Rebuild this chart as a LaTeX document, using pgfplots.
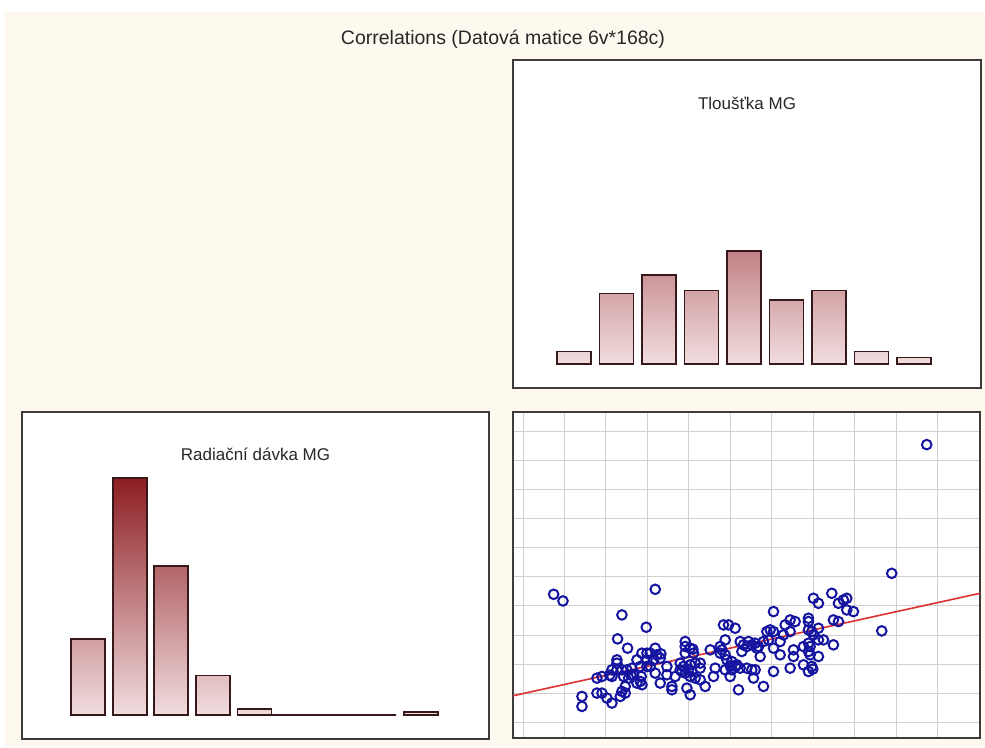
\documentclass[border=0pt]{standalone}
\usepackage{pgfplots}
\pgfplotsset{compat=1.18}
\usepackage{pgfplotstable}
\usepackage{fontspec}
\setmainfont{Liberation Sans}
\definecolor{cream}{RGB}{254,249,239}
\definecolor{frame}{RGB}{60,60,60}
\definecolor{barlo}{RGB}{241,221,223}
\definecolor{barhi}{RGB}{140,28,32}
\definecolor{barline}{RGB}{55,25,28}
\definecolor{ptblue}{RGB}{20,20,160}
\definecolor{regred}{RGB}{222,50,50}
\definecolor{gridgray}{RGB}{208,208,208}
\definecolor{txt}{RGB}{40,40,40}

% scatter data: positions (x to the right, y downwards)
\pgfplotstableread{
x y
130 583
158 603
335 645
408 682
322 717
352 745
320 780
320 790
380 780
305 810
320 810
335 810
350 810
365 805
390 800
410 800
260 835
275 830
305 830
340 830
355 835
370 825
390 845
380 850
345 860
335 875
345 880
330 890
260 880
275 880
290 895
305 910
215 890
215 920
435 568
395 760
410 760
420 760
435 745
440 765
450 775
410 780
430 780
420 800
395 855
435 820
450 850
470 825
485 860
485 870
495 830
510 810
525 725
525 740
540 745
550 760
525 760
510 790
520 800
540 795
555 790
570 790
570 805
535 810
525 820
540 830
555 835
570 840
585 860
530 865
540 885
600 750
630 740
635 750
645 720
640 675
655 675
675 685
645 765
650 780
665 785
680 795
665 810
645 810
660 830
615 805
610 830
690 805
710 805
685 870
690 725
700 735
695 755
710 740
790 635
715 725
725 735
735 730
745 740
760 725
770 695
780 690
790 695
775 720
790 745
750 770
725 810
735 810
730 835
760 860
790 815
810 725
810 765
825 675
820 705
840 660
855 665
840 695
895 655
895 665
905 695
925 685
910 705
895 730
900 740
895 755
900 765
925 720
940 720
925 770
880 740
850 750
850 770
880 795
905 800
895 815
840 805
910 595
925 610
965 580
985 610
1000 600
1010 595
1010 630
970 660
985 665
970 735
1145 520
1030 635
1115 693
1250 133
362 826
393 830
452 762
515 815
545 815
298 826
908 808
895 690
740 745
630 760
676 800
660 798
548 748
470 800
}\scatterdata

\pgfplotsset{
  panel/.style={
    scale only axis,
    axis background/.style={fill=white},
    axis line style={draw=frame, line width=1.6pt},
    xtick=\empty, ytick=\empty,
  },
  hbar/.style={ybar, bar width=34pt, bar shift=0pt, draw=barline, line width=1.8pt,
    bottom color=barlo, top color=barhi!#1!barlo},
}

\begin{document}
\begin{tikzpicture}
\fill[white] (0,0) rectangle (985pt,747pt);
\useasboundingbox (0,0) rectangle (985pt,747pt);
\fill[cream] (5pt,0) rectangle (985pt,735pt);

\node[anchor=base, text=txt, font=\fontsize{19.5}{22}\selectfont] at (503pt,702pt)
  {Correlations (Datová matice 6v*168c)};

% Top right: histogram Tloušťka MG
\begin{axis}[panel, at={(513pt,359pt)}, anchor=south west,
  width=468pt, height=328pt,
  xmin=-0.435, xmax=10.576, ymin=-7.97, ymax=99.6]
\addplot[hbar=5]  coordinates {(1,4)};
\addplot[hbar=29] coordinates {(2,23)};
\addplot[hbar=37] coordinates {(3,29)};
\addplot[hbar=30] coordinates {(4,24)};
\addplot[hbar=47] coordinates {(5,37)};
\addplot[hbar=27] coordinates {(6,21)};
\addplot[hbar=30] coordinates {(7,24)};
\addplot[hbar=5]  coordinates {(8,4)};
\addplot[hbar=3]  coordinates {(9,2)};
\node[anchor=base, text=txt, font=\fontsize{17}{20}\selectfont]
  at (rel axis cs:0.5,1) [yshift=-49.3pt] {Tloušťka MG};
\end{axis}

% Bottom left: histogram Radiační dávka MG
\begin{axis}[panel, at={(22pt,8pt)}, anchor=south west,
  width=467pt, height=327pt,
  xmin=-0.587, xmax=10.64, ymin=-7.9, ymax=99.7]
\addplot[hbar=32] coordinates {(1,25)};
\addplot[hbar=99] coordinates {(2,78)};
\addplot[hbar=62] coordinates {(3,49)};
\addplot[hbar=16] coordinates {(4,13)};
\addplot[hbar=3]  coordinates {(5,2)};
\addplot[hbar=0]  coordinates {(6,0)};
\addplot[hbar=0]  coordinates {(7,0)};
\addplot[hbar=0]  coordinates {(8,0)};
\addplot[hbar=1]  coordinates {(9,1)};
\addplot[barline, line width=1.8pt, no marks] coordinates {(5.41,0) (8.41,0)};
\node[anchor=base, text=txt, font=\fontsize{17}{20}\selectfont]
  at (rel axis cs:0.5,1) [yshift=-48.7pt] {Radiační dávka MG};
\end{axis}

% Bottom right: scatter
\begin{axis}[scale only axis, at={(513pt,9pt)}, anchor=south west,
  width=467pt, height=326pt,
  axis background/.style={fill=white},
  axis line style={draw=frame, line width=1.6pt},
  xmin=8, xmax=1410, ymin=35, ymax=1015, y dir=reverse,
  xtick={38,162.5,...,1283}, ytick={93,180.5,...,968},
  xticklabels={}, yticklabels={}, tick style={draw=none},
  grid=major, major grid style={draw=gridgray, line width=0.9pt}]
\addplot[only marks, mark=o, mark size=4.8pt, mark options={draw=ptblue, line width=2pt}]
  table[x=x, y=y] {\scatterdata};
\addplot[regred, line width=1.6pt, no marks] coordinates {(8,888) (1410,580)};
\end{axis}
\end{tikzpicture}
\end{document}
